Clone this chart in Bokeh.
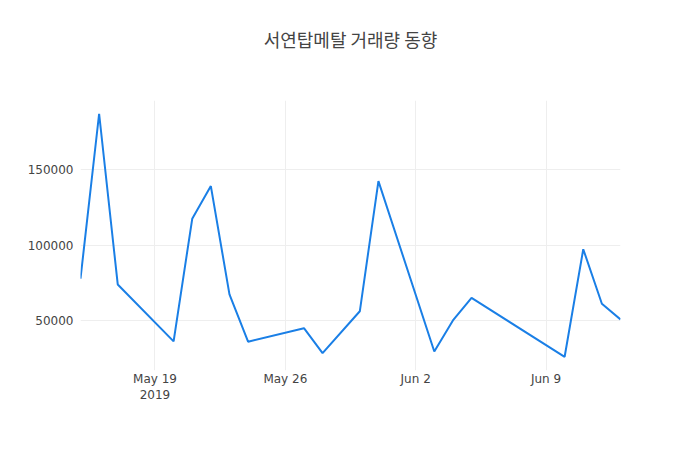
from datetime import datetime

from bokeh.plotting import figure
from bokeh.models import ColumnDataSource, FixedTicker, Range1d, BasicTickFormatter
from bokeh.embed import file_html
from bokeh.resources import INLINE

# daily trading volume
dates = ["2019-05-15", "2019-05-16", "2019-05-17", "2019-05-20", "2019-05-21",
         "2019-05-22", "2019-05-23", "2019-05-24", "2019-05-27", "2019-05-28",
         "2019-05-30", "2019-05-31", "2019-06-03", "2019-06-04", "2019-06-05",
         "2019-06-10", "2019-06-11", "2019-06-12", "2019-06-13"]
volume = [77700, 187200, 73900, 36100, 117500,
          139200, 67300, 35900, 44900, 28300,
          56100, 142500, 29400, 50000, 65000,
          25900, 97300, 61100, 50700]

x_ticks = ["2019-05-19", "2019-05-26", "2019-06-02", "2019-06-09"]
x_labels = ["May 19\n2019", "May 26", "Jun 2", "Jun 9"]
y_ticks = [50000, 100000, 150000]

title = "서연탑메탈 거래량 동향"

x = [datetime.strptime(d, "%Y-%m-%d") for d in dates]
src = ColumnDataSource(data=dict(date=x, volume=volume))

def ms(d):
    return (datetime.strptime(d, "%Y-%m-%d") - datetime(1970, 1, 1)).total_seconds() * 1000

p = figure(width=700, height=450, x_axis_type="datetime",
           x_range=Range1d(x[0], x[-1]), y_range=Range1d(16800, 196000),
           output_backend="svg", toolbar_location=None,
           min_border_left=80, min_border_right=80, min_border_top=100, min_border_bottom=80)

p.line(x="date", y="volume", source=src, color="#1a7fe6", line_width=2)

# two blank lines under the title lift it higher above the plot
p.title.text = title + "\n\n"
p.title.align = "center"
p.title.text_font = "Noto Sans CJK KR"
p.title.text_font_size = "18px"
p.title.text_font_style = "normal"
p.title.text_color = "#444444"
p.title.text_line_height = 0.91
p.title.standoff = 3

p.outline_line_color = None
p.background_fill_color = "white"
p.border_fill_color = "white"

p.xaxis.ticker = FixedTicker(ticks=[ms(d) for d in x_ticks])
p.xgrid.ticker = FixedTicker(ticks=[ms(d) for d in x_ticks])
p.xaxis.major_label_overrides = {ms(d): lab for d, lab in zip(x_ticks, x_labels)}
p.yaxis.ticker = FixedTicker(ticks=y_ticks)
p.ygrid.ticker = FixedTicker(ticks=y_ticks)
p.yaxis.formatter = BasicTickFormatter(use_scientific=False)

for ax in (p.xaxis, p.yaxis):
    ax.axis_line_color = None
    ax.major_tick_line_color = None
    ax.minor_tick_line_color = None
    ax.major_label_text_font = "DejaVu Sans"
    ax.major_label_text_font_size = "12px"
    ax.major_label_text_color = "#444444"
p.xaxis.major_label_standoff = -5
p.yaxis.major_label_standoff = 1

p.xgrid.grid_line_color = "#eeeeee"
p.ygrid.grid_line_color = "#eeeeee"

open("out.html", "w").write(file_html(p, INLINE))
